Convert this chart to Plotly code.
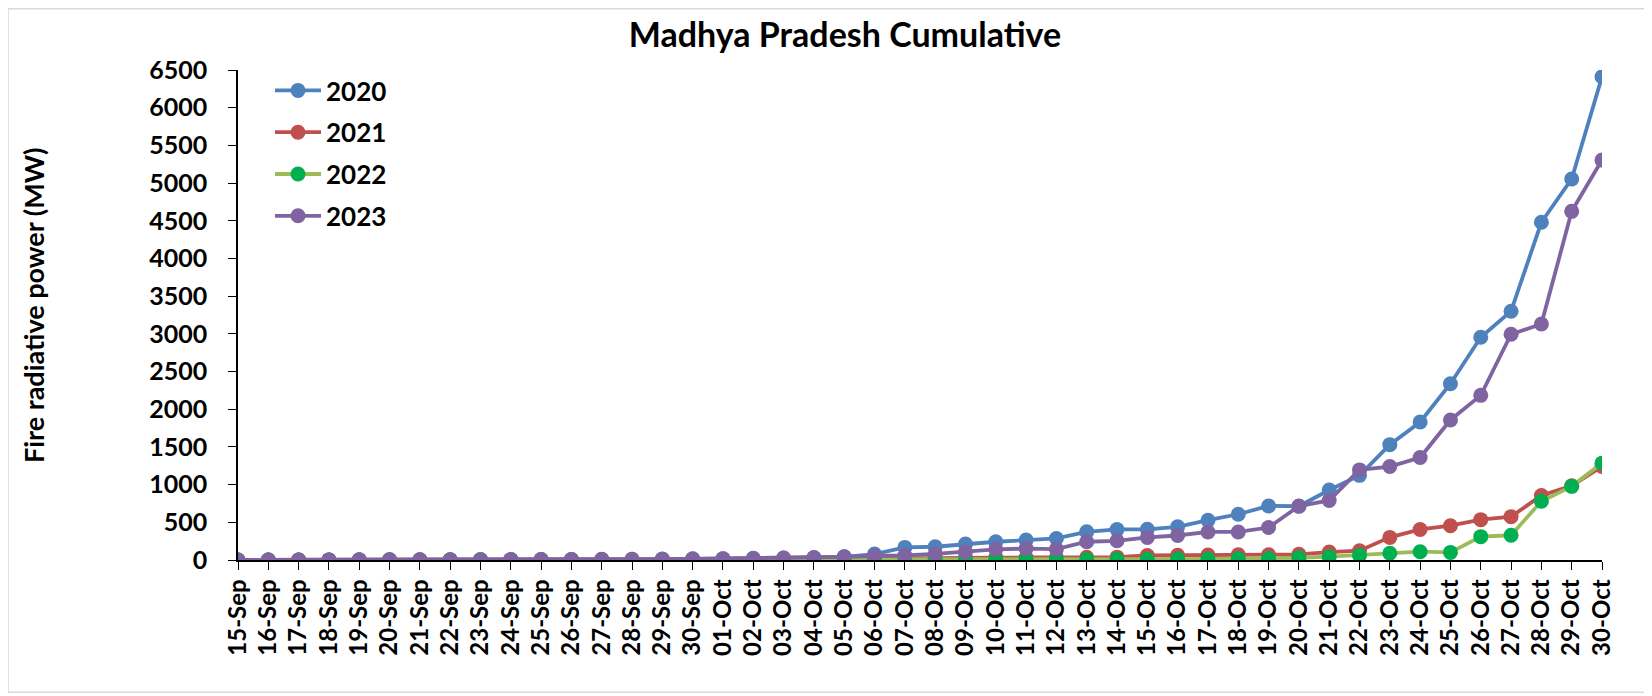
import plotly.graph_objects as go

categories = [f"{d}-Sep" for d in range(15, 31)] + [f"{d:02d}-Oct" for d in range(1, 31)]

y2020 = [0, 0, 0, 1, 2, 2, 3, 4, 5, 6, 7, 8, 9, 10, 12, 15,
         18, 22, 26, 32, 42, 79, 167, 176, 211, 242, 264, 286, 374, 405,
         407, 440, 528, 607, 717, 713, 928, 1123, 1530, 1830, 2339, 2955, 3300, 4480, 5055, 6410]
y2021 = [0, 0, 0, 0, 0, 0, 0, 0, 0, 1, 1, 1, 2, 2, 2, 3,
         3, 4, 4, 5, 6, 8, 22, 28, 30, 32, 33, 35, 36, 38,
         60, 64, 66, 68, 70, 75, 105, 123, 300, 405, 455, 535, 575, 855, 985, 1240]
y2022 = [0, 0, 0, 0, 0, 0, 0, 0, 0, 0, 0, 0, 0, 1, 1, 1,
         1, 2, 2, 2, 3, 3, 4, 5, 5, 6, 6, 7, 8, 9,
         10, 12, 14, 16, 20, 30, 44, 62, 90, 110, 101, 310, 328, 780, 977, 1285]
y2023 = [0, 0, 0, 1, 1, 2, 2, 3, 4, 5, 6, 7, 8, 9, 11, 13,
         17, 21, 25, 30, 42, 53, 60, 80, 105, 142, 152, 145, 242, 255,
         300, 325, 372, 372, 431, 715, 790, 1195, 1240, 1360, 1858, 2184, 2995, 3130, 4625, 5305]

series = [
    ("2020", y2020, "#4f81bd", "#4f81bd"),
    ("2021", y2021, "#c0504d", "#c0504d"),
    ("2022", y2022, "#9bbb59", "#00b050"),
    ("2023", y2023, "#8064a2", "#8064a2"),
]

FONT = "Lato"
W, H = 1652, 696
L, R, T, B = 230, 58, 61.5, 143.5
PW = W - L - R
PH = H - T - B

fig = go.Figure()
for name, vals, lc, mc in series:
    fig.add_trace(go.Scatter(
        x=categories, y=vals, name=name, mode="lines+markers",
        line=dict(color=lc, width=3.8),
        marker=dict(color=mc, size=15, line=dict(width=0)),
        legendgroup=name,
    ))

fig.update_layout(
    width=W, height=H,
    paper_bgcolor="white", plot_bgcolor="white",
    margin=dict(l=L, r=R, t=T, b=B),
    showlegend=True,
    legend=dict(x=(262 - L) / PW, y=1 + 3 / PH, xanchor="left", yanchor="top",
                font=dict(family=FONT, size=26, color="black", weight="bold"),
                traceorder="grouped", tracegroupgap=5, itemwidth=46,
                bgcolor="rgba(0,0,0,0)"),
    title=dict(text="Madhya Pradesh Cumulative", x=837 / W, xanchor="center",
               y=1 - 27 / H, yanchor="middle",
               font=dict(family=FONT, size=34, color="black", weight="bold")),
    font=dict(family=FONT, color="black"),
)

fig.update_xaxes(
    type="category", range=[0, 45],
    showline=True, linecolor="black", linewidth=1.5,
    ticks="outside", ticklen=8, tickwidth=1.2, tickcolor="black",
    tickangle=-90, showgrid=False, zeroline=False,
    tickfont=dict(family=FONT, size=24, color="black", weight="bold"),
)
fig.update_yaxes(
    range=[0, 6500], tickvals=list(range(0, 6501, 500)),
    showline=True, linecolor="black", linewidth=1.5,
    ticks="outside", ticklen=8, tickwidth=1.2, tickcolor="black",
    showgrid=False, zeroline=False, ticklabelstandoff=16,
    tickfont=dict(family=FONT, size=25, color="black", weight="bold"),
)

fig.add_annotation(
    text="Fire radiative power (MW)", textangle=-90,
    xref="paper", yref="paper", x=(25 - L) / PW, y=0.5 + 10 / PH,
    xanchor="center", yanchor="middle", showarrow=False,
    font=dict(family=FONT, size=27, color="black", weight="bold"),
)

fig.add_shape(type="rect", xref="paper", yref="paper",
              x0=(0 - L) / PW, x1=(1637 - L) / PW,
              y0=(T + PH - 685) / PH, y1=(T + PH - 0) / PH,
              line=dict(color="#d9d9d9", width=1.5), fillcolor="rgba(0,0,0,0)", layer="below")

fig.write_html("out.html")
